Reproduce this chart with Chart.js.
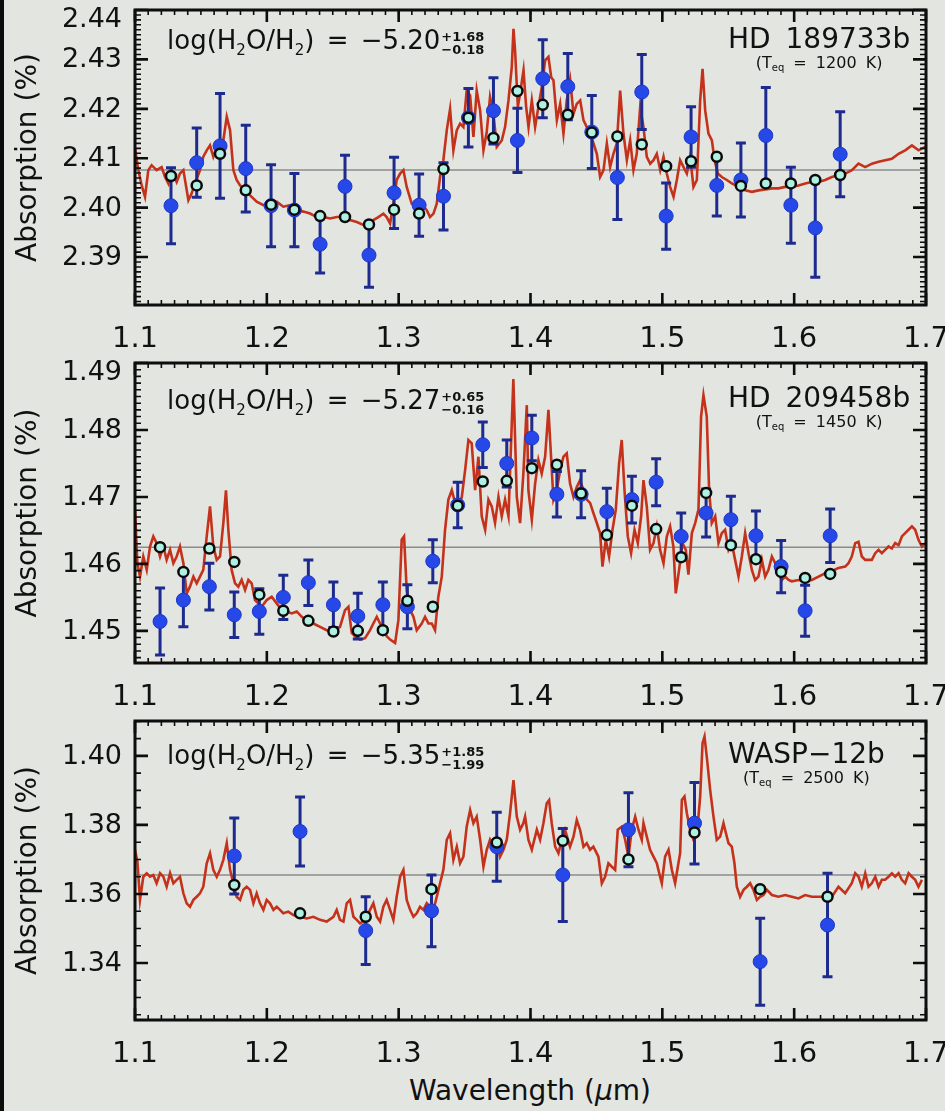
<!DOCTYPE html>
<html>
<head>
<meta charset="utf-8">
<title>Water absorption in three hot Jupiters</title>
<script src="https://cdn.jsdelivr.net/npm/chart.js@4.4.1/dist/chart.umd.min.js"></script>
<style>
  html, body { margin: 0; padding: 0; }
  body { width: 945px; height: 1111px; background: #e3e5e1; position: relative; overflow: hidden;
         font-family: "DejaVu Sans", sans-serif; color: #111; }
  .edge { position: absolute; left: 0; top: 0; width: 4px; height: 1111px; background: #0c0c0c; }
  canvas { position: absolute; left: 0; }
  .abund { position: absolute; left: 167px; font-size: 26px; line-height: 26px; white-space: nowrap; word-spacing: 4px; }
  .abund sub { font-size: 15px; vertical-align: -6px; line-height: 0; }
  .pm { display: inline-block; vertical-align: -5px; font-size: 13px; line-height: 13px; font-weight: bold; margin-left: 1px; word-spacing: 0; }
  .pm span { display: block; }
  .planet { position: absolute; left: 728px; text-align: center; white-space: nowrap; }
  .planet .nm { font-size: 28px; line-height: 28px; word-spacing: 6px; }
  .planet .teq { font-size: 16px; line-height: 18px; word-spacing: 4px; margin-top: 1px; }
  .teq sub { font-size: 10px; vertical-align: -3px; line-height: 0; }
  .xtitle { position: absolute; left: 330px; width: 400px; top: 1077px; text-align: center; font-size: 28px; line-height: 28px; white-space: nowrap; }
</style>
</head>
<body>
<div class="edge"></div>
<canvas id="p1" width="945" height="355" style="top:0px"></canvas>
<canvas id="p2" width="945" height="360" style="top:353px"></canvas>
<canvas id="p3" width="945" height="359" style="top:711px"></canvas>

<div class="abund" style="top:27px">log(H<sub>2</sub>O/H<sub>2</sub>) = −5.20<span class="pm"><span>+1.68</span><span>−0.18</span></span></div>
<div class="planet" style="top:25px"><div class="nm">HD 189733b</div><div class="teq">(T<sub>eq</sub> = 1200 K)</div></div>

<div class="abund" style="top:387px">log(H<sub>2</sub>O/H<sub>2</sub>) = −5.27<span class="pm"><span>+0.65</span><span>−0.16</span></span></div>
<div class="planet" style="top:384px"><div class="nm">HD 209458b</div><div class="teq">(T<sub>eq</sub> = 1450 K)</div></div>

<div class="abund" style="top:742px">log(H<sub>2</sub>O/H<sub>2</sub>) = −5.35<span class="pm"><span>+1.85</span><span>−1.99</span></span></div>
<div class="planet" style="top:740px"><div class="nm">WASP−12b</div><div class="teq">(T<sub>eq</sub> = 2500 K)</div></div>

<div class="xtitle">Wavelength (<i>μ</i>m)</div>

<script>
const X_TICKS = [1.1, 1.2, 1.3, 1.4, 1.5, 1.6, 1.7];

// HD 189733b
const hd189Wave = [1.1273,1.1468,1.1645,1.1840,1.2032,1.2209,1.2404,1.2593,1.2775,1.2965,1.3155,1.3340,1.3529,1.3719,
                   1.3901,1.4093,1.4283,1.4465,1.4659,1.4844,1.5029,1.5218,1.5413,1.5596,1.5785,1.5975,1.6160,1.6349];
const hd189Depth = [2.4004,2.4091,2.4125,2.4079,2.4004,2.3995,2.3926,2.4043,2.3904,2.4030,2.4005,2.4023,2.4182,2.4196,
                    2.4136,2.4261,2.4245,2.4153,2.4061,2.4234,2.3983,2.4143,2.4045,2.4056,2.4146,2.4005,2.3959,2.4108];
const hd189Err = [0.0077,0.0070,0.0106,0.0088,0.0083,0.0074,0.0058,0.0063,0.0065,0.0072,0.0063,0.0068,0.0059,0.0067,
                  0.0065,0.0079,0.0067,0.0074,0.0085,0.0076,0.0067,0.0061,0.0062,0.0075,0.0097,0.0077,0.0100,0.0086];
const hd189Binned = [2.4064,2.4045,2.4109,2.4035,2.4006,2.3996,2.3983,2.3981,2.3966,2.3996,2.3988,2.4078,2.4182,2.4141,
                     2.4236,2.4208,2.4188,2.4152,2.4144,2.4128,2.4084,2.4094,2.4103,2.4044,2.4049,2.4049,2.4056,2.4066];
const hd189Flat = 2.4076;
const hd189YTicks = [2.39, 2.40, 2.41, 2.42, 2.43, 2.44];
const hd189Model = [
  [1.1000,2.4120],[1.1025,2.4076],[1.1051,2.4045],[1.1076,2.4022],[1.1101,2.4076],[1.1126,2.4086],[1.1164,2.4076],
  [1.1202,2.4082],[1.1228,2.4062],[1.1253,2.4049],[1.1278,2.4076],[1.1316,2.4052],[1.1341,2.4069],[1.1367,2.4076],
  [1.1405,2.4015],[1.1430,2.4029],[1.1455,2.4049],[1.1493,2.4076],[1.1518,2.4103],[1.1544,2.4116],[1.1569,2.4126],
  [1.1594,2.4103],[1.1620,2.4123],[1.1645,2.4113],[1.1670,2.4136],[1.1696,2.4184],[1.1721,2.4157],[1.1746,2.4076],
  [1.1771,2.4056],[1.1797,2.4045],[1.1835,2.4035],[1.1873,2.4025],[1.1923,2.4012],[1.1974,2.4005],[1.2024,2.4008],
  [1.2075,2.4012],[1.2125,2.4002],[1.2176,2.4005],[1.2227,2.3995],[1.2277,2.3992],[1.2328,2.3988],[1.2378,2.3981],
  [1.2429,2.3981],[1.2480,2.3978],[1.2530,2.3981],[1.2581,2.3981],[1.2631,2.3975],[1.2682,2.3971],[1.2732,2.3965],
  [1.2770,2.3968],[1.2808,2.3975],[1.2846,2.3981],[1.2884,2.3988],[1.2909,2.3981],[1.2935,2.3968],[1.2960,2.4008],
  [1.2985,2.4056],[1.3011,2.4069],[1.3036,2.4076],[1.3061,2.4042],[1.3099,2.4008],[1.3137,2.4002],[1.3162,2.3992],
  [1.3188,2.4002],[1.3213,2.3995],[1.3238,2.3981],[1.3264,2.3988],[1.3289,2.4008],[1.3314,2.4062],[1.3339,2.4096],
  [1.3365,2.4157],[1.3390,2.4200],[1.3415,2.4116],[1.3441,2.4157],[1.3466,2.4170],[1.3491,2.4163],[1.3516,2.4237],
  [1.3542,2.4227],[1.3567,2.4143],[1.3592,2.4237],[1.3618,2.4197],[1.3643,2.4116],[1.3668,2.4153],[1.3693,2.4224],
  [1.3719,2.4190],[1.3744,2.4123],[1.3782,2.4136],[1.3807,2.4163],[1.3833,2.4217],[1.3858,2.4285],[1.3871,2.4362],
  [1.3883,2.4318],[1.3904,2.4204],[1.3921,2.4231],[1.3947,2.4278],[1.3967,2.4204],[1.3985,2.4163],[1.4010,2.4217],
  [1.4035,2.4163],[1.4060,2.4204],[1.4086,2.4244],[1.4111,2.4298],[1.4136,2.4305],[1.4157,2.4264],[1.4174,2.4258],
  [1.4200,2.4177],[1.4225,2.4210],[1.4250,2.4150],[1.4275,2.4217],[1.4301,2.4258],[1.4326,2.4190],[1.4351,2.4210],
  [1.4377,2.4217],[1.4402,2.4177],[1.4427,2.4163],[1.4452,2.4150],[1.4478,2.4130],[1.4503,2.4109],[1.4528,2.4062],
  [1.4554,2.4076],[1.4579,2.4130],[1.4604,2.4082],[1.4629,2.4109],[1.4655,2.4130],[1.4680,2.4237],[1.4705,2.4150],
  [1.4731,2.4096],[1.4756,2.4136],[1.4781,2.4076],[1.4806,2.4109],[1.4832,2.4204],[1.4857,2.4163],[1.4882,2.4103],
  [1.4908,2.4089],[1.4933,2.4096],[1.4958,2.4109],[1.4984,2.4076],[1.5009,2.4103],[1.5034,2.4069],[1.5059,2.4042],
  [1.5085,2.4022],[1.5110,2.4056],[1.5135,2.4096],[1.5161,2.4082],[1.5186,2.4069],[1.5211,2.4103],[1.5236,2.4042],
  [1.5262,2.4056],[1.5287,2.4217],[1.5305,2.4281],[1.5325,2.4197],[1.5350,2.4150],[1.5376,2.4136],[1.5396,2.4096],
  [1.5421,2.4069],[1.5451,2.4062],[1.5489,2.4056],[1.5527,2.4049],[1.5578,2.4042],[1.5628,2.4035],[1.5679,2.4032],
  [1.5730,2.4035],[1.5780,2.4037],[1.5831,2.4039],[1.5881,2.4039],[1.5932,2.4042],[1.5982,2.4042],[1.6033,2.4045],
  [1.6084,2.4049],[1.6134,2.4052],[1.6185,2.4052],[1.6235,2.4056],[1.6286,2.4062],[1.6337,2.4066],[1.6387,2.4069],
  [1.6438,2.4076],[1.6488,2.4089],[1.6539,2.4082],[1.6590,2.4089],[1.6640,2.4093],[1.6691,2.4096],[1.6741,2.4099],
  [1.6792,2.4109],[1.6842,2.4116],[1.6893,2.4126],[1.6944,2.4116],[1.6994,2.4123]
];

// HD 209458b
const hd209Wave = [1.1190,1.1367,1.1564,1.1753,1.1943,1.2125,1.2315,1.2505,1.2690,1.2880,1.3066,1.3259,1.3448,1.3638,
                   1.3820,1.4010,1.4200,1.4384,1.4579,1.4769,1.4953,1.5143,1.5332,1.5520,1.5710,1.5901,1.6083,1.6273];
const hd209Depth = [1.4514,1.4546,1.4566,1.4524,1.4529,1.4550,1.4572,1.4539,1.4522,1.4539,1.4536,1.4604,1.4688,1.4778,
                    1.4750,1.4788,1.4704,1.4704,1.4678,1.4696,1.4722,1.4641,1.4676,1.4666,1.4642,1.4596,1.4530,1.4642];
const hd209Err = [0.0050,0.0040,0.0035,0.0034,0.0034,0.0033,0.0034,0.0034,0.0034,0.0034,0.0033,0.0032,0.0034,0.0034,
                  0.0035,0.0034,0.0034,0.0035,0.0035,0.0035,0.0035,0.0035,0.0036,0.0035,0.0037,0.0039,0.0038,0.0040];
const hd209Binned = [1.4625,1.4588,1.4623,1.4603,1.4554,1.4530,1.4515,1.4499,1.4500,1.4501,1.4545,1.4536,1.4687,1.4723,
                     1.4724,1.4743,1.4748,1.4705,1.4643,1.4687,1.4652,1.4610,1.4706,1.4628,1.4607,1.4588,1.4579,1.4585];
const hd209Flat = 1.4625;
const hd209YTicks = [1.45, 1.46, 1.47, 1.48, 1.49];
const hd209Model = [
  [1.1000,1.4681],[1.1018,1.4601],[1.1038,1.4581],[1.1063,1.4611],[1.1089,1.4591],[1.1114,1.4626],[1.1139,1.4641],
  [1.1164,1.4631],[1.1190,1.4611],[1.1215,1.4626],[1.1240,1.4606],[1.1266,1.4621],[1.1291,1.4601],[1.1316,1.4611],
  [1.1341,1.4626],[1.1367,1.4601],[1.1392,1.4556],[1.1417,1.4566],[1.1443,1.4581],[1.1468,1.4571],[1.1493,1.4581],
  [1.1518,1.4591],[1.1544,1.4641],[1.1569,1.4686],[1.1594,1.4626],[1.1620,1.4606],[1.1645,1.4611],[1.1670,1.4661],
  [1.1690,1.4710],[1.1708,1.4651],[1.1733,1.4591],[1.1759,1.4571],[1.1784,1.4566],[1.1809,1.4576],[1.1835,1.4561],
  [1.1860,1.4576],[1.1885,1.4571],[1.1910,1.4546],[1.1936,1.4541],[1.1961,1.4536],[1.1999,1.4546],[1.2037,1.4551],
  [1.2075,1.4541],[1.2113,1.4531],[1.2151,1.4529],[1.2189,1.4526],[1.2227,1.4529],[1.2265,1.4521],[1.2302,1.4516],
  [1.2353,1.4511],[1.2404,1.4506],[1.2454,1.4501],[1.2505,1.4499],[1.2555,1.4506],[1.2593,1.4531],[1.2619,1.4536],
  [1.2644,1.4497],[1.2669,1.4492],[1.2707,1.4487],[1.2745,1.4489],[1.2783,1.4501],[1.2808,1.4511],[1.2834,1.4521],
  [1.2859,1.4511],[1.2884,1.4501],[1.2909,1.4492],[1.2935,1.4487],[1.2973,1.4482],[1.2998,1.4516],[1.3023,1.4636],
  [1.3041,1.4641],[1.3061,1.4561],[1.3087,1.4531],[1.3112,1.4521],[1.3137,1.4501],[1.3175,1.4511],[1.3200,1.4521],
  [1.3226,1.4511],[1.3251,1.4511],[1.3276,1.4501],[1.3301,1.4551],[1.3327,1.4581],[1.3352,1.4651],[1.3377,1.4696],
  [1.3403,1.4710],[1.3428,1.4691],[1.3453,1.4686],[1.3479,1.4700],[1.3504,1.4740],[1.3529,1.4785],[1.3554,1.4780],
  [1.3580,1.4710],[1.3605,1.4760],[1.3630,1.4671],[1.3656,1.4651],[1.3681,1.4696],[1.3706,1.4686],[1.3731,1.4661],
  [1.3757,1.4700],[1.3782,1.4671],[1.3807,1.4696],[1.3833,1.4671],[1.3870,1.4876],[1.3896,1.4700],[1.3921,1.4661],
  [1.3946,1.4735],[1.3972,1.4837],[1.3984,1.4710],[1.4010,1.4666],[1.4035,1.4720],[1.4060,1.4755],[1.4085,1.4735],
  [1.4111,1.4760],[1.4136,1.4830],[1.4156,1.4760],[1.4174,1.4696],[1.4199,1.4710],[1.4225,1.4740],[1.4250,1.4760],
  [1.4275,1.4765],[1.4300,1.4720],[1.4326,1.4700],[1.4351,1.4715],[1.4376,1.4725],[1.4402,1.4710],[1.4427,1.4696],
  [1.4452,1.4691],[1.4477,1.4676],[1.4503,1.4661],[1.4528,1.4646],[1.4546,1.4596],[1.4571,1.4636],[1.4596,1.4611],
  [1.4622,1.4651],[1.4647,1.4681],[1.4672,1.4750],[1.4692,1.4785],[1.4713,1.4710],[1.4738,1.4641],[1.4763,1.4616],
  [1.4789,1.4651],[1.4814,1.4631],[1.4839,1.4671],[1.4857,1.4725],[1.4882,1.4686],[1.4907,1.4621],[1.4933,1.4631],
  [1.4958,1.4656],[1.4983,1.4621],[1.5009,1.4601],[1.5034,1.4641],[1.5059,1.4656],[1.5084,1.4626],[1.5102,1.4556],
  [1.5127,1.4591],[1.5153,1.4631],[1.5178,1.4621],[1.5198,1.4584],[1.5224,1.4646],[1.5249,1.4661],[1.5274,1.4681],
  [1.5294,1.4820],[1.5312,1.4852],[1.5337,1.4820],[1.5355,1.4710],[1.5375,1.4661],[1.5401,1.4671],[1.5426,1.4631],
  [1.5451,1.4646],[1.5476,1.4651],[1.5502,1.4621],[1.5527,1.4631],[1.5552,1.4606],[1.5578,1.4581],[1.5603,1.4611],
  [1.5628,1.4646],[1.5654,1.4616],[1.5679,1.4591],[1.5704,1.4576],[1.5729,1.4581],[1.5755,1.4606],[1.5780,1.4581],
  [1.5805,1.4591],[1.5831,1.4611],[1.5856,1.4601],[1.5881,1.4586],[1.5906,1.4576],[1.5932,1.4581],[1.5957,1.4576],
  [1.5982,1.4574],[1.6033,1.4576],[1.6083,1.4574],[1.6134,1.4576],[1.6185,1.4581],[1.6235,1.4586],[1.6286,1.4589],
  [1.6336,1.4594],[1.6387,1.4596],[1.6412,1.4601],[1.6437,1.4611],[1.6463,1.4631],[1.6488,1.4633],[1.6513,1.4611],
  [1.6539,1.4606],[1.6589,1.4606],[1.6615,1.4616],[1.6640,1.4621],[1.6665,1.4616],[1.6690,1.4621],[1.6716,1.4626],
  [1.6741,1.4623],[1.6766,1.4631],[1.6792,1.4628],[1.6817,1.4641],[1.6842,1.4646],[1.6868,1.4651],[1.6893,1.4656],
  [1.6918,1.4651],[1.6943,1.4636],[1.6969,1.4626],[1.6994,1.4631]
];

// WASP-12b
const wasp12Wave = [1.1753,1.2252,1.2750,1.3249,1.3744,1.4245,1.4743,1.5244,1.5742,1.6253];
const wasp12Depth = [1.3710,1.3781,1.3494,1.3551,1.3737,1.3655,1.3786,1.3805,1.3404,1.3510];
const wasp12Err = [0.0110,0.0100,0.0098,0.0104,0.0100,0.0135,0.0107,0.0118,0.0126,0.0150];
const wasp12Binned = [1.3626,1.3544,1.3534,1.3614,1.3749,1.3754,1.3700,1.3778,1.3614,1.3592];
const wasp12Flat = 1.3655;
const wasp12YTicks = [1.34, 1.36, 1.38, 1.40];
const wasp12Model = [
  [1.1000,1.3728],[1.1018,1.3694],[1.1038,1.3583],[1.1063,1.3650],[1.1089,1.3660],[1.1114,1.3650],[1.1139,1.3655],
  [1.1164,1.3631],[1.1190,1.3660],[1.1215,1.3650],[1.1240,1.3621],[1.1266,1.3660],[1.1291,1.3631],[1.1316,1.3641],
  [1.1341,1.3650],[1.1367,1.3602],[1.1392,1.3573],[1.1417,1.3563],[1.1443,1.3583],[1.1468,1.3592],[1.1493,1.3602],
  [1.1518,1.3621],[1.1544,1.3689],[1.1569,1.3718],[1.1594,1.3670],[1.1620,1.3650],[1.1645,1.3670],[1.1670,1.3699],
  [1.1696,1.3747],[1.1721,1.3670],[1.1746,1.3631],[1.1771,1.3592],[1.1797,1.3583],[1.1822,1.3612],[1.1847,1.3621],
  [1.1873,1.3612],[1.1898,1.3573],[1.1923,1.3602],[1.1948,1.3573],[1.1974,1.3554],[1.1999,1.3583],[1.2024,1.3573],
  [1.2050,1.3554],[1.2075,1.3563],[1.2100,1.3554],[1.2125,1.3544],[1.2163,1.3549],[1.2201,1.3539],[1.2252,1.3534],
  [1.2302,1.3529],[1.2353,1.3534],[1.2404,1.3525],[1.2454,1.3520],[1.2505,1.3534],[1.2530,1.3554],[1.2555,1.3525],
  [1.2581,1.3520],[1.2606,1.3573],[1.2631,1.3583],[1.2657,1.3534],[1.2682,1.3525],[1.2707,1.3515],[1.2732,1.3520],
  [1.2758,1.3534],[1.2783,1.3554],[1.2808,1.3573],[1.2834,1.3534],[1.2859,1.3520],[1.2884,1.3563],[1.2909,1.3583],
  [1.2935,1.3554],[1.2960,1.3525],[1.2985,1.3592],[1.3011,1.3650],[1.3036,1.3670],[1.3061,1.3583],[1.3087,1.3554],
  [1.3112,1.3534],[1.3137,1.3544],[1.3162,1.3563],[1.3188,1.3554],[1.3213,1.3573],[1.3238,1.3563],[1.3264,1.3554],
  [1.3289,1.3592],[1.3314,1.3631],[1.3339,1.3670],[1.3365,1.3757],[1.3390,1.3776],[1.3415,1.3699],[1.3441,1.3737],
  [1.3466,1.3689],[1.3491,1.3708],[1.3516,1.3795],[1.3542,1.3843],[1.3567,1.3805],[1.3592,1.3824],[1.3618,1.3757],
  [1.3643,1.3679],[1.3668,1.3728],[1.3693,1.3757],[1.3719,1.3737],[1.3744,1.3757],[1.3769,1.3708],[1.3795,1.3728],
  [1.3820,1.3757],[1.3845,1.3834],[1.3871,1.3930],[1.3896,1.3824],[1.3921,1.3786],[1.3946,1.3805],[1.3959,1.3824],
  [1.3984,1.3757],[1.4010,1.3728],[1.4048,1.3786],[1.4073,1.3757],[1.4098,1.3805],[1.4123,1.3863],[1.4141,1.3872],
  [1.4161,1.3805],[1.4187,1.3737],[1.4212,1.3718],[1.4237,1.3757],[1.4262,1.3786],[1.4300,1.3737],[1.4326,1.3766],
  [1.4351,1.3814],[1.4376,1.3786],[1.4402,1.3737],[1.4427,1.3747],[1.4452,1.3728],[1.4477,1.3737],[1.4515,1.3708],
  [1.4541,1.3631],[1.4566,1.3650],[1.4591,1.3689],[1.4617,1.3679],[1.4642,1.3670],[1.4662,1.3786],[1.4692,1.3795],
  [1.4718,1.3757],[1.4743,1.3708],[1.4768,1.3786],[1.4794,1.3824],[1.4819,1.3786],[1.4844,1.3757],[1.4857,1.3805],
  [1.4882,1.3766],[1.4907,1.3728],[1.4933,1.3708],[1.4958,1.3689],[1.4983,1.3650],[1.4996,1.3631],[1.5021,1.3708],
  [1.5047,1.3728],[1.5072,1.3670],[1.5097,1.3631],[1.5122,1.3689],[1.5135,1.3718],[1.5148,1.3872],[1.5168,1.3882],
  [1.5186,1.3834],[1.5211,1.3786],[1.5236,1.3757],[1.5261,1.3766],[1.5287,1.3882],[1.5305,1.4037],[1.5320,1.4056],
  [1.5337,1.3998],[1.5363,1.3901],[1.5388,1.3824],[1.5413,1.3757],[1.5439,1.3766],[1.5464,1.3805],[1.5476,1.3786],
  [1.5502,1.3747],[1.5527,1.3737],[1.5547,1.3689],[1.5565,1.3621],[1.5590,1.3592],[1.5616,1.3612],[1.5641,1.3621],
  [1.5666,1.3631],[1.5691,1.3612],[1.5717,1.3583],[1.5742,1.3592],[1.5767,1.3597],[1.5793,1.3612],[1.5831,1.3597],
  [1.5881,1.3592],[1.5932,1.3597],[1.5982,1.3592],[1.6033,1.3587],[1.6083,1.3597],[1.6134,1.3592],[1.6185,1.3592],
  [1.6235,1.3592],[1.6261,1.3602],[1.6286,1.3592],[1.6336,1.3621],[1.6387,1.3602],[1.6437,1.3631],[1.6463,1.3660],
  [1.6488,1.3650],[1.6513,1.3621],[1.6539,1.3660],[1.6564,1.3621],[1.6589,1.3631],[1.6615,1.3650],[1.6640,1.3621],
  [1.6665,1.3641],[1.6690,1.3641],[1.6716,1.3650],[1.6741,1.3660],[1.6766,1.3650],[1.6792,1.3660],[1.6817,1.3641],
  [1.6842,1.3631],[1.6868,1.3660],[1.6893,1.3650],[1.6918,1.3641],[1.6943,1.3621],[1.6969,1.3641]
];

const FONT = 'DejaVu Sans';
const INK = '#111111';

function toPoints(xs, ys) {
  return xs.map((x, i) => ({ x: x, y: ys[i] }));
}

// vertical error bars with caps, drawn just before the observed points
const errorBars = {
  id: 'errorBars',
  beforeDatasetDraw(chart, args) {
    const ds = chart.data.datasets[args.index];
    if (!ds.errorBars) return;
    const { ctx, scales: { x, y } } = chart;
    ctx.save();
    ctx.strokeStyle = '#1d2b8e';
    ctx.lineWidth = 3;
    ds.data.forEach((p, i) => {
      const px = x.getPixelForValue(p.x);
      const top = y.getPixelForValue(p.y + ds.errorBars[i]);
      const bot = y.getPixelForValue(p.y - ds.errorBars[i]);
      ctx.beginPath();
      ctx.moveTo(px, top); ctx.lineTo(px, bot);
      ctx.moveTo(px - 5, top); ctx.lineTo(px + 5, top);
      ctx.moveTo(px - 5, bot); ctx.lineTo(px + 5, bot);
      ctx.stroke();
    });
    ctx.restore();
  }
};

// IDL-style box: thick frame, inward ticks on all four sides, y labels kept inside the frame height
const frame = {
  id: 'frame',
  afterDraw(chart, args, opts) {
    const { ctx, chartArea: a, scales: { x, y } } = chart;
    ctx.save();
    ctx.strokeStyle = '#0d0d0d';

    ctx.lineWidth = 1.6;
    ctx.beginPath();
    const ys = opts.yMinor;
    for (let k = Math.ceil(y.min / ys - 1e-6); k * ys <= y.max + 1e-9; k++) {
      const py = y.getPixelForValue(k * ys);
      ctx.moveTo(a.left, py); ctx.lineTo(a.left + 6, py);
      ctx.moveTo(a.right, py); ctx.lineTo(a.right - 6, py);
    }
    const xs = opts.xMinor;
    for (let k = Math.ceil(x.min / xs - 1e-6); k * xs <= x.max + 1e-9; k++) {
      const px = x.getPixelForValue(k * xs);
      ctx.moveTo(px, a.bottom); ctx.lineTo(px, a.bottom - 5);
      ctx.moveTo(px, a.top); ctx.lineTo(px, a.top + 5);
    }
    ctx.stroke();

    ctx.lineWidth = 2.6;
    ctx.beginPath();
    y.ticks.forEach(t => {
      const py = y.getPixelForValue(t.value);
      ctx.moveTo(a.left, py); ctx.lineTo(a.left + 13, py);
      ctx.moveTo(a.right, py); ctx.lineTo(a.right - 13, py);
    });
    x.ticks.forEach(t => {
      const px = x.getPixelForValue(t.value);
      ctx.moveTo(px, a.bottom); ctx.lineTo(px, a.bottom - 12);
      ctx.moveTo(px, a.top); ctx.lineTo(px, a.top + 12);
    });
    ctx.stroke();

    ctx.lineWidth = 3;
    ctx.strokeRect(a.left, a.top, a.right - a.left, a.bottom - a.top);

    ctx.fillStyle = INK;
    ctx.font = '27px "' + FONT + '"';
    ctx.textAlign = 'right';
    ctx.textBaseline = 'middle';
    y.ticks.forEach(t => {
      const py = Math.max(y.getPixelForValue(t.value) + 1, a.top + 10);
      ctx.fillText(t.value.toFixed(2), a.left - 13, py);
    });
    ctx.restore();
  }
};

function buildPanel(id, p) {
  return new Chart(document.getElementById(id), {
    type: 'line',
    data: {
      datasets: [
        { label: 'binned model', data: toPoints(p.wave, p.binned), showLine: false,
          pointRadius: 5, pointBackgroundColor: '#aef0e2', pointBorderColor: '#0b0b0b', pointBorderWidth: 2.5, order: 0 },
        { label: 'observed', data: toPoints(p.wave, p.depth), errorBars: p.err, showLine: false,
          pointRadius: 7, pointBackgroundColor: '#2648e8', pointBorderColor: '#1c36c4', pointBorderWidth: 1, order: 1 },
        { label: 'model', data: p.model.map(m => ({ x: m[0], y: m[1] })),
          borderColor: '#c4321b', borderWidth: 2.6, pointRadius: 0, tension: 0, order: 2 },
        { label: 'flat', data: [{ x: 1.1, y: p.flat }, { x: 1.7, y: p.flat }],
          borderColor: '#8b8b8b', borderWidth: 1.5, pointRadius: 0, order: 3 }
      ]
    },
    options: {
      responsive: false,
      animation: false,
      devicePixelRatio: 1,
      events: [],
      layout: { padding: { top: 10, right: 19, bottom: 0, left: 0 } },
      plugins: {
        legend: { display: false },
        tooltip: { enabled: false },
        frame: { yMinor: p.yMinor, xMinor: 0.01 }
      },
      scales: {
        x: {
          type: 'linear', min: 1.1, max: 1.7,
          afterBuildTicks: axis => { axis.ticks = X_TICKS.map(v => ({ value: v })); },
          afterFit: axis => { axis.height = 50; axis.paddingLeft = 0; axis.paddingRight = 0; },
          grid: { display: false, drawTicks: false },
          border: { display: false },
          ticks: { padding: 17, color: INK, autoSkip: false, maxRotation: 0,
                   font: { family: FONT, size: 29 }, callback: v => v.toFixed(1) }
        },
        y: {
          type: 'linear', min: p.yMin, max: p.yMax,
          afterBuildTicks: axis => { axis.ticks = p.yTicks.map(v => ({ value: v })); },
          afterFit: axis => { axis.width = 135; axis.paddingTop = 0; axis.paddingBottom = 0; },
          grid: { display: false, drawTicks: false },
          border: { display: false },
          ticks: { display: false },
          title: { display: true, text: 'Absorption (%)', color: INK,
                   font: { family: FONT, size: 28 }, padding: { top: 12, bottom: 0 } }
        }
      }
    },
    plugins: [errorBars, frame]
  });
}

buildPanel('p1', { wave: hd189Wave, depth: hd189Depth, err: hd189Err, binned: hd189Binned, model: hd189Model,
                   flat: hd189Flat, yTicks: hd189YTicks, yMin: 2.3803, yMax: 2.44, yMinor: 0.001 });
buildPanel('p2', { wave: hd209Wave, depth: hd209Depth, err: hd209Err, binned: hd209Binned, model: hd209Model,
                   flat: hd209Flat, yTicks: hd209YTicks, yMin: 1.4452, yMax: 1.49, yMinor: 0.001 });
buildPanel('p3', { wave: wasp12Wave, depth: wasp12Depth, err: wasp12Err, binned: wasp12Binned, model: wasp12Model,
                   flat: wasp12Flat, yTicks: wasp12YTicks, yMin: 1.3235, yMax: 1.4101, yMinor: 0.005 });
</script>
</body>
</html>
